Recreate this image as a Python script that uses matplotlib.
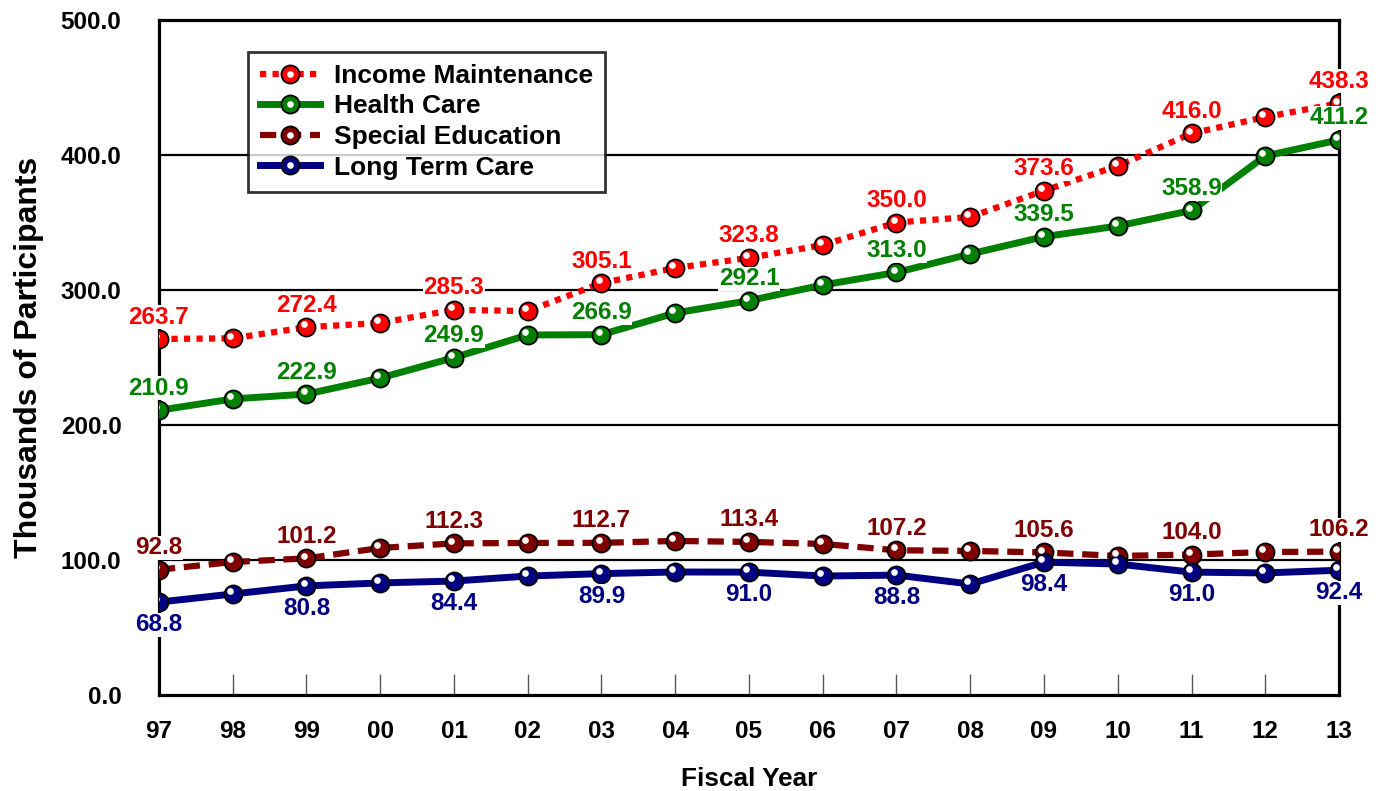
import matplotlib.pyplot as plt
import matplotlib.transforms as mtransforms
from matplotlib.lines import Line2D
from matplotlib.legend_handler import HandlerTuple

plt.rcParams['font.family'] = ['Liberation Sans', 'DejaVu Sans']
plt.rcParams['font.weight'] = 'bold'

years = ['97', '98', '99', '00', '01', '02', '03', '04', '05',
         '06', '07', '08', '09', '10', '11', '12', '13']

income_maint = [263.7, 264.2, 272.4, 275.6, 285.3, 284.4, 305.1, 316.3, 323.8,
                333.3, 350.0, 354.1, 373.6, 391.9, 416.0, 428.1, 438.3]
health_care = [210.9, 219.3, 222.9, 234.8, 249.9, 266.7, 266.9, 283.0, 292.1,
               303.7, 313.0, 326.7, 339.5, 347.4, 358.9, 399.3, 411.2]
special_ed = [92.8, 98.5, 101.2, 108.9, 112.3, 112.6, 112.7, 114.1, 113.4,
              111.9, 107.2, 106.7, 105.6, 103.0, 104.0, 105.9, 106.2]
long_term = [68.8, 74.8, 80.8, 83.0, 84.4, 88.1, 89.9, 91.1, 91.0,
             88.1, 88.8, 82.2, 98.4, 97.0, 91.0, 90.4, 92.4]

# name, values, colour, dash pattern, line width, label offset (points; + above, - below)
series = [
    ('Income Maintenance', income_maint, '#FF0000', (0, (1, 1)), 4.5, 7.5),
    ('Health Care', health_care, '#008000', '-', 5, 7.5),
    ('Special Education', special_ed, '#800000', (0, (2.6, 1.4)), 4.5, 7.5),
    ('Long Term Care', long_term, '#000080', '-', 5, -8),
]

fig = plt.figure(figsize=(13.82, 7.91), dpi=100)
ax = fig.add_axes([0.1150, 0.1214, 0.8539, 0.8533])
x = list(range(len(years)))

# highlight dot shifted up-left to give the markers a shiny look
shine = mtransforms.offset_copy(ax.transData, fig=fig, x=-2, y=2, units='points')

handles = []
for name, vals, color, ls, lw, off in series:
    ln, = ax.plot(x, vals, color=color, linestyle=ls, lw=lw,
                  dash_capstyle='butt', marker='o', markersize=13,
                  markerfacecolor=color, markeredgecolor='black',
                  markeredgewidth=1.3, zorder=3)
    ax.plot(x, vals, linestyle='none', marker='o', markersize=4.8,
            markerfacecolor='white', markeredgecolor='none',
            transform=shine, zorder=4)
    dot = Line2D([], [], linestyle='none', marker='o', markersize=4.8,
                 markerfacecolor='white', markeredgecolor='none')
    handles.append((ln, dot))
    for i in range(0, len(vals), 2):
        ax.annotate(f'{vals[i]:.1f}', (x[i], vals[i]), xytext=(0, off),
                    textcoords='offset points', ha='center',
                    va='bottom' if off > 0 else 'top',
                    color=color, fontsize=17.5, fontweight='bold', zorder=6,
                    annotation_clip=False,
                    bbox=dict(boxstyle='square,pad=0.02', fc='white', ec='none'))

ax.set_xlim(0, len(years) - 1)
ax.set_ylim(0, 500)
ax.set_yticks([0, 100, 200, 300, 400, 500])
ax.set_yticklabels([f'{v:.1f}' for v in [0, 100, 200, 300, 400, 500]])
ax.set_xticks(x)
ax.set_xticklabels(years)

for yv in [100, 200, 300, 400]:
    ax.axhline(yv, color='black', lw=1.6, zorder=1)

for s in ax.spines.values():
    s.set_linewidth(2.3)
    s.set_zorder(2)

ax.tick_params(axis='y', length=0, pad=27, labelsize=17.5)
ax.tick_params(axis='x', direction='in', length=15, width=1, color='#555555',
               pad=18, labelsize=17.5)
for lab in ax.get_xticklabels() + ax.get_yticklabels():
    lab.set_fontweight('bold')

ax.set_ylabel('Thousands of Participants', fontsize=23, fontweight='bold', labelpad=12)
ax.set_xlabel('Fiscal Year', fontsize=18.8, fontweight='bold', labelpad=17)

leg = ax.legend(handles, [s[0] for s in series],
                handler_map={tuple: HandlerTuple(ndivide=1)},
                loc='upper left', bbox_to_anchor=(0.0754, 0.9526),
                borderaxespad=0, fontsize=19, frameon=True, fancybox=False,
                handlelength=2.3, handletextpad=0.5, borderpad=0.45,
                labelspacing=0.25)
leg.get_frame().set_edgecolor('black')
leg.get_frame().set_linewidth(2)
leg.set_zorder(7)
for t in leg.get_texts():
    t.set_fontweight('bold')

fig.savefig('out.png', dpi=100)
